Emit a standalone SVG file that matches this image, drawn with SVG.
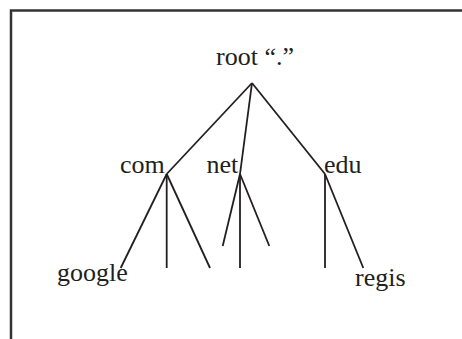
<svg xmlns="http://www.w3.org/2000/svg" width="462" height="339" viewBox="0 0 462 339">
<style>
text{font-family:"Liberation Serif","Times New Roman",serif;font-size:26px;fill:#231f20}
.e{stroke:#231f20;stroke-width:1.8;fill:none;stroke-linecap:butt}
.frame{stroke:#333;stroke-width:2.5;fill:none}
</style>
<rect width="462" height="339" fill="#fff"/>
<path class="frame" d="M11 339V10.5H462"/>
<g id="connectors">
<path class="e" d="M252 83L166.7 174"/>
<path class="e" d="M252 83L240 174"/>
<path class="e" d="M252 83L325 174"/>
<path class="e" d="M166.7 174L120.7 268"/>
<path class="e" d="M166.7 174V268"/>
<path class="e" d="M166.7 174L210 268"/>
<path class="e" d="M240 174L222.7 246"/>
<path class="e" d="M240 174V268"/>
<path class="e" d="M240 174L269.3 246"/>
<path class="e" d="M325 174V268"/>
<path class="e" d="M325 174L363.3 268"/>
</g>
<g id="root"><text x="216" y="65">root “.”</text></g>
<g id="com"><text x="120" y="172.5">com</text></g>
<g id="net"><text x="206.5" y="172.5">net</text></g>
<g id="edu"><text x="324" y="172.5">edu</text></g>
<g id="google"><text x="57" y="281">google</text></g>
<g id="regis"><text x="355" y="286">regis</text></g>
</svg>
